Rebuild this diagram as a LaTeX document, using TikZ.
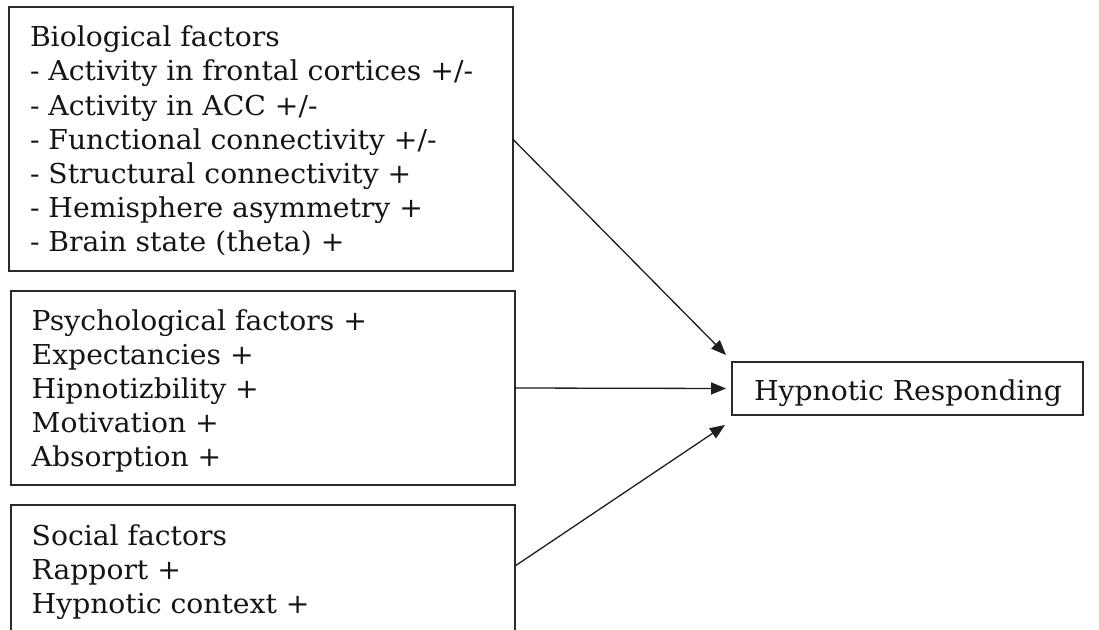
\documentclass[tikz,border=0pt]{standalone}
\usepackage{fontspec}
\setmainfont{DejaVu Serif}[FakeStretch=1.03]
\usetikzlibrary{arrows.meta}
\definecolor{boxc}{HTML}{2A2A2A}
\definecolor{linec}{HTML}{1E1E1E}
\definecolor{textc}{HTML}{151515}
\begin{document}
\begin{tikzpicture}[x=1pt,y=-1pt,
  box/.style={draw=boxc, line width=2pt, inner sep=0pt, outer sep=0pt, anchor=north west},
  txt/.style={anchor=north west, inner sep=0pt, outer sep=0pt, align=left, text=textc,
              font=\fontsize{27.4}{34.2}\selectfont},
  conn/.style={line width=1.3pt, draw=linec, -{Triangle[length=15pt,width=12pt]}}]
\useasboundingbox (0,0) rectangle (1099,629);
\clip (0,0) rectangle (1099,629);
\fill[white] (0,0) rectangle (1099,629);
% boxes
\node[box, minimum width=504pt, minimum height=263.7pt] (bio) at (8.5,7) {};
\node[box, minimum width=503.5pt, minimum height=194pt] (psych) at (11,291) {};
\node[box, minimum width=504pt, minimum height=127pt] (social) at (11,505) {};
\node[box, minimum width=351pt, minimum height=53pt] (hr) at (732,362) {};
% texts
\node[txt] (biotxt) at (30,22.7) {\rule{0pt}{24pt}Biological factors\\
- Activity in frontal cortices +/-\\
- Activity in ACC +/-\\
- Functional connectivity +/-\\
- Structural connectivity +\\
- Hemisphere asymmetry +\\
- Brain state (theta) +};
\node[txt] (psychtxt) at (31.7,306) {\rule{0pt}{24pt}Psychological factors +\\
Expectancies +\\
Hipnotizbility +\\
Motivation +\\
Absorption +};
\node[txt] (socialtxt) at (31.7,521) {\rule{0pt}{24pt}Social factors\\
Rapport +\\
Hypnotic context +};
\node[txt, anchor=base west] (hrtxt) at (754,400) {Hypnotic Responding};
% connector ends
\coordinate (e1) at (726,355);
\coordinate (e3) at (725,425);
% connectors
\draw[conn] (bio.east) -- (e1);
\draw[conn, shorten >=6pt] (psych.east) -- (hr.west);
\draw[conn] ([yshift=2.5pt]social.east) -- (e3);
\end{tikzpicture}
\end{document}
